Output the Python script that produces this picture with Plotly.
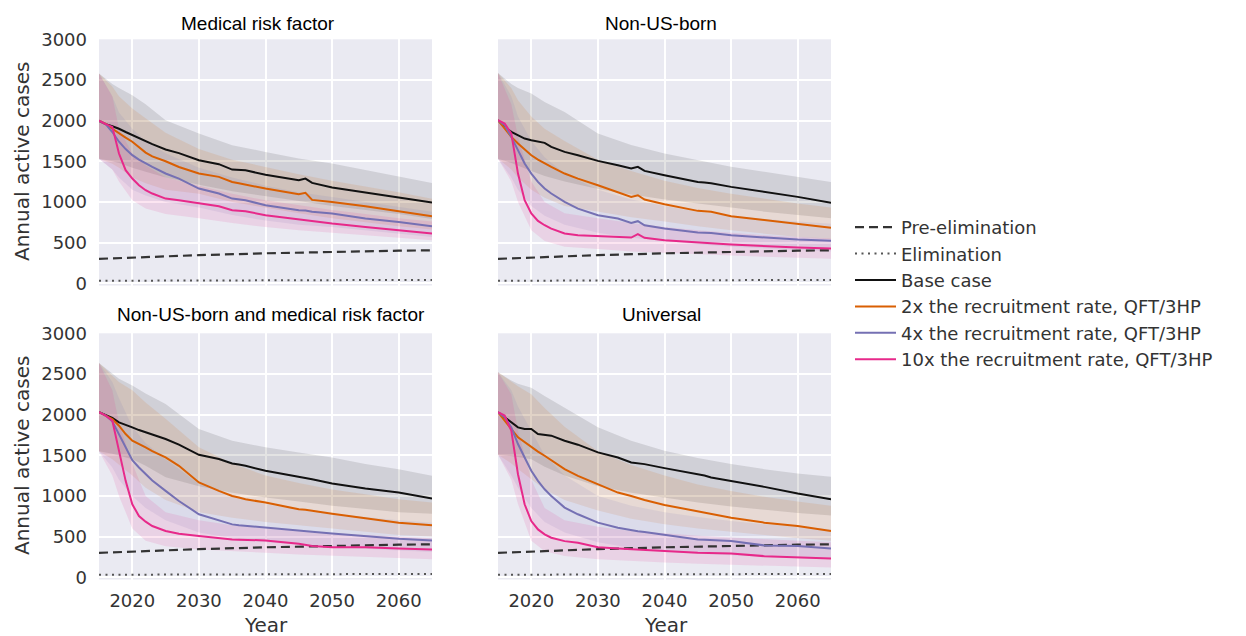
import plotly.graph_objects as go
from plotly.subplots import make_subplots

# ---------------- DATA ----------------
LINE_YEARS = [2015, 2016, 2017, 2018, 2019, 2020, 2021, 2022, 2023, 2025, 2027, 2030,
              2033, 2035, 2036, 2037, 2040, 2045, 2046, 2047, 2050, 2055, 2060, 2065]
BAND_YEARS = [2015, 2017, 2018, 2020, 2022, 2025, 2030, 2035, 2040, 2045, 2050, 2055, 2060, 2065]
THRESH_YEARS = [2015, 2020, 2030, 2040, 2050, 2060, 2065]

PRE_ELIMINATION = [300, 318, 345, 368, 388, 400, 405]
ELIMINATION = [30, 32, 35, 37, 39, 40, 41]

PANEL_TITLES = ["Medical risk factor", "Non-US-born",
                "Non-US-born and medical risk factor", "Universal"]
SERIES_NAMES = ["Base case", "2x the recruitment rate, QFT/3HP",
                "4x the recruitment rate, QFT/3HP", "10x the recruitment rate, QFT/3HP"]
X_TICKS = [2020, 2030, 2040, 2050, 2060]
Y_TICKS = [0, 500, 1000, 1500, 2000, 2500, 3000]

# Panel 1: Medical risk factor
mrf_base = [1995, 1956, 1930, 1900, 1860, 1820, 1780, 1740, 1710, 1645, 1600, 1513,
            1464, 1398, 1395, 1390, 1333, 1267, 1287, 1234, 1177, 1111, 1054, 992]
mrf_x2 = [2000, 1960, 1900, 1840, 1790, 1740, 1670, 1607, 1560, 1500, 1430, 1350,
          1308, 1246, 1230, 1214, 1164, 1095, 1111, 1025, 1000, 947, 890, 824]
mrf_x4 = [2000, 1956, 1860, 1740, 1650, 1575, 1520, 1472, 1430, 1350, 1287, 1164,
          1103, 1041, 1030, 1020, 960, 898, 895, 880, 857, 795, 754, 701]
mrf_x10 = [2000, 1956, 1923, 1595, 1390, 1287, 1205, 1144, 1103, 1041, 1020, 980,
           947, 898, 890, 886, 836, 783, 780, 770, 734, 693, 652, 611]
mrf_base_hi = [2580, 2450, 2400, 2312, 2200, 2005, 1840, 1697, 1615, 1533, 1472, 1390, 1308, 1234]
mrf_base_lo = [1530, 1500, 1480, 1420, 1370, 1300, 1210, 1130, 1070, 1010, 950, 900, 850, 790]
mrf_x2_hi = [2580, 2420, 2300, 2150, 2030, 1850, 1650, 1520, 1430, 1340, 1260, 1190, 1120, 1040]
mrf_x2_lo = [1530, 1470, 1420, 1300, 1230, 1150, 1100, 1000, 930, 860, 800, 750, 700, 660]
mrf_x4_hi = [2580, 2300, 2100, 1900, 1750, 1600, 1420, 1300, 1200, 1120, 1060, 1000, 940, 880]
mrf_x4_lo = [1530, 1400, 1300, 1150, 1080, 1000, 930, 840, 770, 720, 690, 650, 610, 570]
mrf_x10_hi = [2580, 2300, 1900, 1600, 1450, 1300, 1200, 1100, 1020, 960, 900, 850, 800, 760]
mrf_x10_lo = [1530, 1400, 1250, 1020, 920, 850, 800, 740, 690, 650, 620, 590, 560, 530]

# Panel 2: Non-US-born
nusb_base = [2005, 1923, 1861, 1820, 1779, 1759, 1747, 1726, 1677, 1615, 1574, 1505,
             1451, 1410, 1431, 1382, 1328, 1246, 1240, 1230, 1185, 1123, 1062, 988]
nusb_x2 = [2005, 1900, 1800, 1718, 1640, 1574, 1520, 1472, 1430, 1349, 1287, 1205,
           1123, 1062, 1082, 1029, 972, 890, 885, 880, 824, 775, 734, 681]
nusb_x4 = [2005, 1943, 1800, 1636, 1472, 1349, 1246, 1164, 1103, 1000, 918, 836,
           795, 742, 763, 713, 672, 623, 620, 617, 590, 562, 537, 521]
nusb_x10 = [2005, 1964, 1841, 1349, 1021, 857, 767, 713, 672, 611, 590, 582,
            570, 562, 603, 558, 529, 496, 494, 492, 476, 455, 439, 426]
nusb_base_hi = [2587, 2450, 2400, 2333, 2230, 2107, 1841, 1700, 1595, 1510, 1431, 1370, 1308, 1246]
nusb_base_lo = [1530, 1480, 1450, 1380, 1320, 1250, 1160, 1090, 1030, 980, 930, 880, 840, 800]
nusb_x2_hi = [2587, 2400, 2250, 2050, 1900, 1750, 1520, 1380, 1260, 1170, 1100, 1040, 980, 930]
nusb_x2_lo = [1530, 1400, 1300, 1150, 1050, 950, 880, 810, 760, 700, 650, 610, 570, 540]
nusb_x4_hi = [2587, 2300, 2050, 1750, 1550, 1350, 1150, 1030, 950, 880, 830, 790, 760, 730]
nusb_x4_lo = [1530, 1300, 1150, 950, 830, 720, 620, 560, 520, 480, 450, 430, 410, 390]
nusb_x10_hi = [2587, 2200, 1800, 1250, 1000, 860, 800, 740, 690, 650, 620, 590, 570, 550]
nusb_x10_lo = [1530, 1250, 1000, 650, 520, 450, 420, 390, 370, 355, 340, 325, 310, 300]

# Panel 3: Non-US-born and medical risk factor
both_base = [2029, 1990, 1959, 1905, 1870, 1843, 1810, 1782, 1755, 1700, 1630, 1506,
             1453, 1399, 1385, 1370, 1309, 1235, 1225, 1206, 1152, 1090, 1041, 967]
both_x2 = [2029, 1990, 1946, 1864, 1761, 1679, 1640, 1597, 1550, 1473, 1370, 1165,
           1062, 1000, 980, 960, 918, 835, 830, 820, 782, 724, 671, 638]
both_x4 = [2029, 1988, 1918, 1761, 1597, 1440, 1350, 1267, 1190, 1062, 938, 774,
           704, 650, 640, 632, 609, 568, 565, 560, 539, 506, 473, 453]
both_x10 = [2029, 1988, 1926, 1555, 1185, 897, 753, 683, 630, 568, 535, 506,
            477, 465, 462, 460, 453, 412, 400, 383, 370, 370, 354, 342]
both_base_hi = [2634, 2500, 2440, 2358, 2260, 2131, 1823, 1679, 1597, 1535, 1473, 1391, 1329, 1247]
both_base_lo = [1550, 1520, 1500, 1450, 1370, 1230, 1120, 1040, 980, 930, 880, 840, 800, 780]
both_x2_hi = [2634, 2480, 2400, 2300, 2150, 1950, 1600, 1400, 1250, 1160, 1080, 1020, 960, 920]
both_x2_lo = [1550, 1450, 1380, 1250, 1100, 950, 800, 730, 680, 640, 600, 560, 520, 500]
both_x4_hi = [2634, 2400, 2200, 1850, 1650, 1450, 1150, 1000, 900, 830, 780, 740, 700, 670]
both_x4_lo = [1550, 1350, 1200, 1000, 850, 700, 550, 480, 430, 400, 370, 350, 330, 310]
both_x10_hi = [2634, 2300, 1900, 1400, 1000, 800, 700, 640, 600, 570, 540, 520, 500, 480]
both_x10_lo = [1550, 1250, 1000, 600, 450, 380, 340, 320, 300, 280, 260, 245, 235, 220]

# Panel 4: Universal
univ_base = [2029, 1967, 1905, 1843, 1823, 1823, 1761, 1750, 1741, 1679, 1630, 1535,
             1473, 1411, 1400, 1391, 1342, 1267, 1250, 1226, 1185, 1111, 1029, 959]
univ_x2 = [2029, 1920, 1823, 1720, 1658, 1597, 1545, 1494, 1440, 1329, 1247, 1144,
           1041, 1000, 975, 950, 889, 815, 800, 785, 732, 671, 630, 568]
univ_x4 = [2029, 1967, 1843, 1638, 1473, 1309, 1185, 1082, 1000, 856, 774, 671,
           609, 576, 565, 555, 518, 465, 460, 455, 444, 391, 383, 354]
univ_x10 = [2029, 1988, 1802, 1267, 897, 691, 588, 527, 486, 444, 424, 370,
            354, 342, 340, 338, 321, 300, 298, 296, 292, 259, 247, 230]
univ_base_hi = [2522, 2420, 2380, 2329, 2230, 2082, 1843, 1679, 1555, 1465, 1391, 1329, 1276, 1235]
univ_base_lo = [1506, 1490, 1480, 1450, 1360, 1250, 1120, 1040, 980, 920, 870, 830, 790, 760]
univ_x2_hi = [2522, 2400, 2350, 2250, 2080, 1850, 1550, 1380, 1250, 1140, 1060, 990, 930, 880]
univ_x2_lo = [1506, 1400, 1330, 1200, 1080, 950, 820, 720, 650, 600, 560, 520, 480, 450]
univ_x4_hi = [2522, 2300, 2100, 1800, 1500, 1250, 1000, 880, 800, 740, 690, 650, 620, 590]
univ_x4_lo = [1506, 1250, 1100, 850, 680, 550, 430, 360, 320, 290, 270, 255, 240, 220]
univ_x10_hi = [2522, 2250, 1800, 1200, 850, 700, 620, 570, 540, 510, 490, 470, 450, 430]
univ_x10_lo = [1506, 1200, 900, 450, 320, 260, 220, 200, 180, 165, 150, 140, 130, 120]

PANELS = [
    (PANEL_TITLES[0], [mrf_base, mrf_x2, mrf_x4, mrf_x10],
     [(mrf_base_lo, mrf_base_hi), (mrf_x2_lo, mrf_x2_hi), (mrf_x4_lo, mrf_x4_hi), (mrf_x10_lo, mrf_x10_hi)]),
    (PANEL_TITLES[1], [nusb_base, nusb_x2, nusb_x4, nusb_x10],
     [(nusb_base_lo, nusb_base_hi), (nusb_x2_lo, nusb_x2_hi), (nusb_x4_lo, nusb_x4_hi), (nusb_x10_lo, nusb_x10_hi)]),
    (PANEL_TITLES[2], [both_base, both_x2, both_x4, both_x10],
     [(both_base_lo, both_base_hi), (both_x2_lo, both_x2_hi), (both_x4_lo, both_x4_hi), (both_x10_lo, both_x10_hi)]),
    (PANEL_TITLES[3], [univ_base, univ_x2, univ_x4, univ_x10],
     [(univ_base_lo, univ_base_hi), (univ_x2_lo, univ_x2_hi), (univ_x4_lo, univ_x4_hi), (univ_x10_lo, univ_x10_hi)]),
]

# ---------------- STYLE ----------------
W, H = 1246, 636
LINE_COLORS = ["#111111", "#d95f02", "#7570b3", "#e7298a"]
BAND_COLORS = ["rgba(0,0,0,0.11)", "rgba(217,95,2,0.12)", "rgba(117,112,179,0.12)", "rgba(231,41,138,0.12)"]
BG = "#eaeaf2"
TICK_FONT = dict(family="DejaVu Sans", size=18, color="#333333")
TITLE_FONT = dict(family="Liberation Sans", size=19, color="#000000")
AXIS_TITLE_FONT = dict(family="DejaVu Sans", size=20, color="#333333")


def fx(px):
    return px / W


def fy(py):
    return 1 - py / H


X_DOMAINS = [(99, 432), (498, 831)]
Y_DOMAINS = [(39.3, 285.5), (333.3, 579.5)]

fig = make_subplots(rows=2, cols=2)

for idx, (title, means, bands) in enumerate(PANELS):
    r, c = idx // 2 + 1, idx % 2 + 1
    for k, (lo, hi) in enumerate(bands):
        fig.add_trace(go.Scatter(
            x=BAND_YEARS + BAND_YEARS[::-1], y=hi + lo[::-1],
            fill="toself", fillcolor=BAND_COLORS[k], line=dict(width=0),
            mode="lines", showlegend=False, hoverinfo="skip"), row=r, col=c)
    fig.add_trace(go.Scatter(
        x=THRESH_YEARS, y=PRE_ELIMINATION, mode="lines", name="Pre-elimination",
        line=dict(color="#333333", width=2.2, dash="9px,5px"),
        showlegend=(idx == 0)), row=r, col=c)
    fig.add_trace(go.Scatter(
        x=THRESH_YEARS, y=ELIMINATION, mode="lines", name="Elimination",
        line=dict(color="#555555", width=2, dash="2px,4.5px"),
        showlegend=(idx == 0)), row=r, col=c)
    for k, m in enumerate(means):
        fig.add_trace(go.Scatter(
            x=LINE_YEARS, y=m, mode="lines", name=SERIES_NAMES[k],
            line=dict(color=LINE_COLORS[k], width=2),
            showlegend=(idx == 0)), row=r, col=c)

layout_axes = {}
for idx in range(4):
    r, c = idx // 2, idx % 2
    suffix = "" if idx == 0 else str(idx + 1)
    xd = X_DOMAINS[c]
    yd = Y_DOMAINS[r]
    layout_axes["xaxis" + suffix] = dict(
        domain=[fx(xd[0]), fx(xd[1])], range=[2015, 2065],
        tickvals=X_TICKS, showticklabels=(r == 1), tickfont=TICK_FONT,
        showgrid=True, gridcolor="white", gridwidth=1.5, zeroline=False,
        showline=False, ticks="", ticklabelstandoff=8)
    layout_axes["yaxis" + suffix] = dict(
        domain=[fy(yd[1]), fy(yd[0])], range=[-28, 3000],
        tickvals=Y_TICKS, showticklabels=(c == 0), tickfont=TICK_FONT,
        showgrid=True, gridcolor="white", gridwidth=1.5, zeroline=False,
        showline=False, ticks="", ticklabelstandoff=11)

fig.update_layout(**layout_axes)

annotations = []
title_pos = [(258, 23), (661, 23), (271, 315), (661, 315)]
for (t, (tx, ty)) in zip(PANEL_TITLES, title_pos):
    annotations.append(dict(text=t, x=fx(tx), y=fy(ty), xref="paper", yref="paper",
                            xanchor="center", yanchor="middle", showarrow=False, font=TITLE_FONT))
for cy in [162, 456]:
    annotations.append(dict(text="Annual active cases", x=fx(22), y=fy(cy), xref="paper", yref="paper",
                            xanchor="center", yanchor="middle", textangle=-90, showarrow=False,
                            font=AXIS_TITLE_FONT))
for cx in [266, 666]:
    annotations.append(dict(text="Year", x=fx(cx), y=fy(625), xref="paper", yref="paper",
                            xanchor="center", yanchor="middle", showarrow=False, font=AXIS_TITLE_FONT))

fig.update_layout(
    width=W, height=H,
    margin=dict(l=0, r=0, t=0, b=0, autoexpand=False),
    paper_bgcolor="white", plot_bgcolor=BG,
    annotations=annotations,
    legend=dict(x=fx(850), y=fy(209), xanchor="left", yanchor="top",
                font=dict(family="DejaVu Sans", size=18, color="#333333"),
                bgcolor="rgba(0,0,0,0)", itemwidth=41, tracegroupgap=0),
)

fig.write_html(
    "out.html",
    config={"responsive": False, "displayModeBar": False},
    post_script="document.body.style.margin='0';document.body.style.overflow='hidden';",
)
